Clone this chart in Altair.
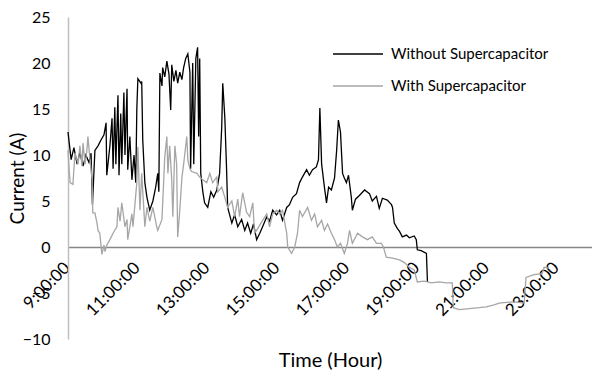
import altair as alt
import pandas as pd

# Time in hours (decimal)
without_hours = [9.00, 9.09, 9.17, 9.26, 9.34, 9.43, 9.51, 9.60, 9.66, 9.70, 9.77, 9.86, 9.94, 10.03, 10.09,
                 10.11, 10.20, 10.26, 10.29, 10.34, 10.37, 10.43, 10.46, 10.51, 10.54, 10.60, 10.63, 10.69, 10.71,
                 10.77, 10.83, 10.89, 10.94, 10.97, 11.00, 11.09, 11.11, 11.14, 11.20, 11.26, 11.34, 11.43, 11.51,
                 11.57, 11.60, 11.63, 11.69, 11.71, 11.77, 11.83, 11.89, 11.94, 11.97, 12.03, 12.09, 12.14, 12.20,
                 12.26, 12.31, 12.37, 12.43, 12.49, 12.51, 12.57, 12.60, 12.66, 12.71, 12.74, 12.77, 12.80, 12.86,
                 12.91, 13.00, 13.09, 13.17, 13.26, 13.34, 13.40, 13.43, 13.49, 13.54, 13.57, 13.69, 13.77, 13.86,
                 13.97, 14.06, 14.14, 14.23, 14.31, 14.40, 14.49, 14.57, 14.69, 14.77, 14.86, 14.97, 15.06, 15.14,
                 15.26, 15.34, 15.43, 15.54, 15.63, 15.71, 15.83, 15.91, 16.00, 16.11, 16.17, 16.21, 16.26, 16.34,
                 16.40, 16.46, 16.54, 16.63, 16.69, 16.74, 16.80, 16.86, 16.91, 16.97, 17.03, 17.11, 17.14, 17.23,
                 17.34, 17.49, 17.63, 17.71, 17.83, 17.91, 18.00, 18.14, 18.26, 18.29, 18.34, 18.43, 18.49, 18.57,
                 18.69, 18.77, 18.91, 18.97, 19.00, 19.11, 19.26, 19.29]
without_amps = [12.5, 9.5, 10.8, 9.0, 10.3, 8.8, 10.0, 9.2, 10.2, 4.6, 10.5, 11.0, 11.6, 12.2, 13.5,
                7.8, 11.0, 14.0, 8.5, 15.2, 9.0, 16.5, 7.8, 14.5, 9.0, 16.8, 10.0, 17.2, 8.4,
                12.0, 7.3, 10.0, 7.0, 15.0, 18.3, 17.8, 18.0, 11.6, 7.0, 5.4, 4.0, 5.0, 6.5,
                8.0, 6.0, 18.9, 17.5, 19.5, 18.5, 20.2, 18.8, 14.9, 19.8, 18.0, 19.2, 17.8, 19.0,
                18.2, 19.5, 20.5, 21.0, 19.0, 8.5, 20.0, 9.0, 20.5, 21.7, 12.0, 20.5, 8.0, 6.0,
                4.8, 4.3, 6.0, 5.4, 6.2, 8.0, 13.0, 17.8, 14.0, 8.4, 4.3, 2.6, 3.5, 2.2,
                3.0, 1.8, 2.6, 1.5, 2.5, 0.8, 1.5, 2.2, 3.3, 2.8, 4.0, 3.5, 4.0, 2.9,
                4.3, 4.6, 5.4, 5.8, 7.0, 7.6, 8.4, 7.8, 8.4, 8.7, 9.5, 15.1, 9.0, 6.5,
                4.8, 6.5, 6.2, 7.5, 10.5, 13.8, 12.5, 8.0, 7.5, 7.0, 7.8, 5.4, 4.0, 5.2,
                5.6, 6.2, 5.8, 5.0, 5.5, 4.2, 5.3, 5.1, 4.6, 4.3, 2.6, 2.0, 1.7, 1.1,
                1.3, 1.0, 1.2, 0.8, -0.3, -0.4, -0.7, -3.8]

with_hours = [9.00, 9.03, 9.06, 9.14, 9.20, 9.29, 9.34, 9.40, 9.43, 9.49, 9.54, 9.57, 9.63, 9.69, 9.71,
              9.77, 9.83, 9.86, 9.91, 9.97, 10.03, 10.06, 10.11, 10.20, 10.29, 10.40, 10.43, 10.49, 10.54,
              10.63, 10.69, 10.71, 10.83, 10.86, 10.97, 11.00, 11.06, 11.11, 11.20, 11.26, 11.34, 11.43, 11.54,
              11.57, 11.69, 11.77, 11.83, 11.86, 11.91, 11.97, 12.00, 12.06, 12.11, 12.14, 12.20, 12.26, 12.31,
              12.34, 12.40, 12.43, 12.49, 12.54, 12.69, 12.77, 12.86, 12.97, 13.06, 13.14, 13.26, 13.29, 13.40,
              13.49, 13.57, 13.69, 13.77, 13.86, 13.91, 14.00, 14.11, 14.20, 14.29, 14.34, 14.43, 14.57, 14.69,
              14.77, 14.86, 14.97, 15.06, 15.14, 15.26, 15.29, 15.40, 15.49, 15.57, 15.63, 15.71, 15.86, 15.97,
              16.06, 16.14, 16.26, 16.34, 16.43, 16.54, 16.63, 16.71, 16.80, 16.91, 17.00, 17.06, 17.14, 17.29,
              17.43, 17.57, 17.71, 17.83, 17.97, 18.03, 18.11, 18.29, 18.49, 18.63, 18.77, 18.91, 19.00, 19.20,
              19.40, 19.63, 19.83, 20.00, 20.03, 20.20, 20.49, 20.77, 20.97, 21.20, 21.34, 21.63, 21.83, 22.06,
              22.11, 22.34, 22.57, 22.63, 22.77]
with_amps = [10.5, 8.5, 7.0, 6.8, 10.2, 9.0, 11.0, 8.8, 11.3, 9.0, 10.5, 12.0, 9.5, 7.3, 3.7,
             3.7, 2.6, 1.8, 1.5, -0.8, 0.2, -0.5, 0.2, 0.8, 1.5, 2.2, 4.3, 2.8, 4.8,
             2.2, 3.0, 0.8, 3.6, 2.2, 7.0, 10.9, 4.0, 8.0, 2.2, 4.3, 2.8, 4.3, 2.2,
             1.8, 3.0, 9.8, 12.0, 8.0, 11.0, 7.3, 3.3, 11.0, 9.0, 1.1, 4.0, 7.5, 9.0,
             10.0, 12.0, 9.5, 8.5, 8.2, 8.0, 7.6, 7.3, 7.0, 8.0, 7.0, 7.6, 6.0, 6.5,
             5.4, 4.3, 5.0, 3.3, 5.2, 3.3, 5.9, 3.8, 3.3, 4.8, 1.5, 2.0, 2.9, 3.6,
             2.2, 3.6, 4.0, 3.6, 4.0, 1.5, 0.0, -0.7, 0.0, 1.5, 4.0, 3.3, 4.3, 2.9,
             3.6, 2.2, 2.9, 1.8, 2.5, 1.5, 0.8, 0.0, 0.4, -0.7, 0.4, 1.8, 0.4, 1.5,
             1.1, 0.8, 1.1, 0.4, 0.4, 0.0, -1.1, -1.2, -1.4, -1.7, -2.2, -2.5, -3.8, -3.7,
             -3.9, -3.8, -3.9, -3.9, -6.6, -6.8, -6.7, -6.6, -6.5, -6.3, -6.1, -6.0, -6.0, -6.1,
             -3.3, -3.0, -2.9, -2.2, -2.3]

series_names = ["Without Supercapacitor", "With Supercapacitor"]
x_ticks = [9, 11, 13, 15, 17, 19, 21, 23]
y_ticks = [-10, -5, 0, 5, 10, 15, 20, 25]

FONT = "Lato"
BLACK = "#000000"
GREY = "#a6a6a6"

df_without = pd.DataFrame({"hour": without_hours, "amps": without_amps})
df_with = pd.DataFrame({"hour": with_hours, "amps": with_amps})
df_leg1 = pd.DataFrame({"name": [series_names[0]]})
df_leg2 = pd.DataFrame({"name": [series_names[1]]})

x_scale = alt.Scale(domain=[9, 24], nice=False, zero=False)
y_scale = alt.Scale(domain=[-10, 25], nice=False, zero=False)

x_axis = alt.Axis(
    values=x_ticks,
    labelExpr="datum.value + ':00:00'",
    labelAngle=-45,
    labelAlign="right",
    labelBaseline="middle",
    labelPadding=18,
    labelOffset=-1,
    labelFont=FONT,
    labelFontSize=17,
    labelColor="#000000",
    ticks=False,
    grid=False,
    domainColor="#868686",
    domainWidth=1.5,
    offset=-92,
    title="Time (Hour)",
    titleFont=FONT,
    titleFontSize=20,
    titleFontWeight="normal",
    titleColor="#000000",
    titleX=262,
    titleY=113,
    titleAlign="center",
    titleBaseline="middle",
    titleAnchor="start",
)

y_axis = alt.Axis(
    values=y_ticks,
    labelFont=FONT,
    labelFontSize=16,
    labelColor="#000000",
    labelPadding=18,
    ticks=False,
    grid=False,
    domainColor="#bfbfbf",
    domainWidth=1.5,
    title="Current (A)",
    titleFont=FONT,
    titleFontSize=19,
    titleFontWeight="normal",
    titleColor="#000000",
    titleX=-51,
    titleY=161,
    titleAngle=-90,
    titleAlign="center",
    titleBaseline="middle",
)

line_without = alt.Chart(df_without).mark_line(color=BLACK, strokeWidth=1.3).encode(
    x=alt.X("hour:Q", scale=x_scale, axis=x_axis),
    y=alt.Y("amps:Q", scale=y_scale, axis=y_axis),
    order="hour:Q",
)
line_with = alt.Chart(df_with).mark_line(color=GREY, strokeWidth=1.3).encode(
    x=alt.X("hour:Q", scale=x_scale),
    y=alt.Y("amps:Q", scale=y_scale),
    order="hour:Q",
)

leg_rule1 = alt.Chart(df_leg1).mark_rule(color=BLACK, strokeWidth=1.5).encode(
    x=alt.value(265), x2=alt.value(315), y=alt.value(37)
)
leg_rule2 = alt.Chart(df_leg2).mark_rule(color=GREY, strokeWidth=1.5).encode(
    x=alt.value(265), x2=alt.value(315), y=alt.value(69)
)
leg_text1 = alt.Chart(df_leg1).mark_text(
    align="left", baseline="middle", font=FONT, fontSize=15, color="#000000"
).encode(x=alt.value(323), y=alt.value(37), text="name:N")
leg_text2 = alt.Chart(df_leg2).mark_text(
    align="left", baseline="middle", font=FONT, fontSize=15, color="#000000"
).encode(x=alt.value(323), y=alt.value(69), text="name:N")

chart = alt.layer(
    line_without, line_with, leg_rule1, leg_rule2, leg_text1, leg_text2
).properties(
    width=524,
    height=322,
    padding={"left": 68, "top": 17, "right": 0, "bottom": 35},
    autosize=alt.AutoSizeParams(type="none"),
    background="white",
).configure_view(stroke=None)

chart.save("out.html", embed_options={"renderer": "svg", "actions": False})
